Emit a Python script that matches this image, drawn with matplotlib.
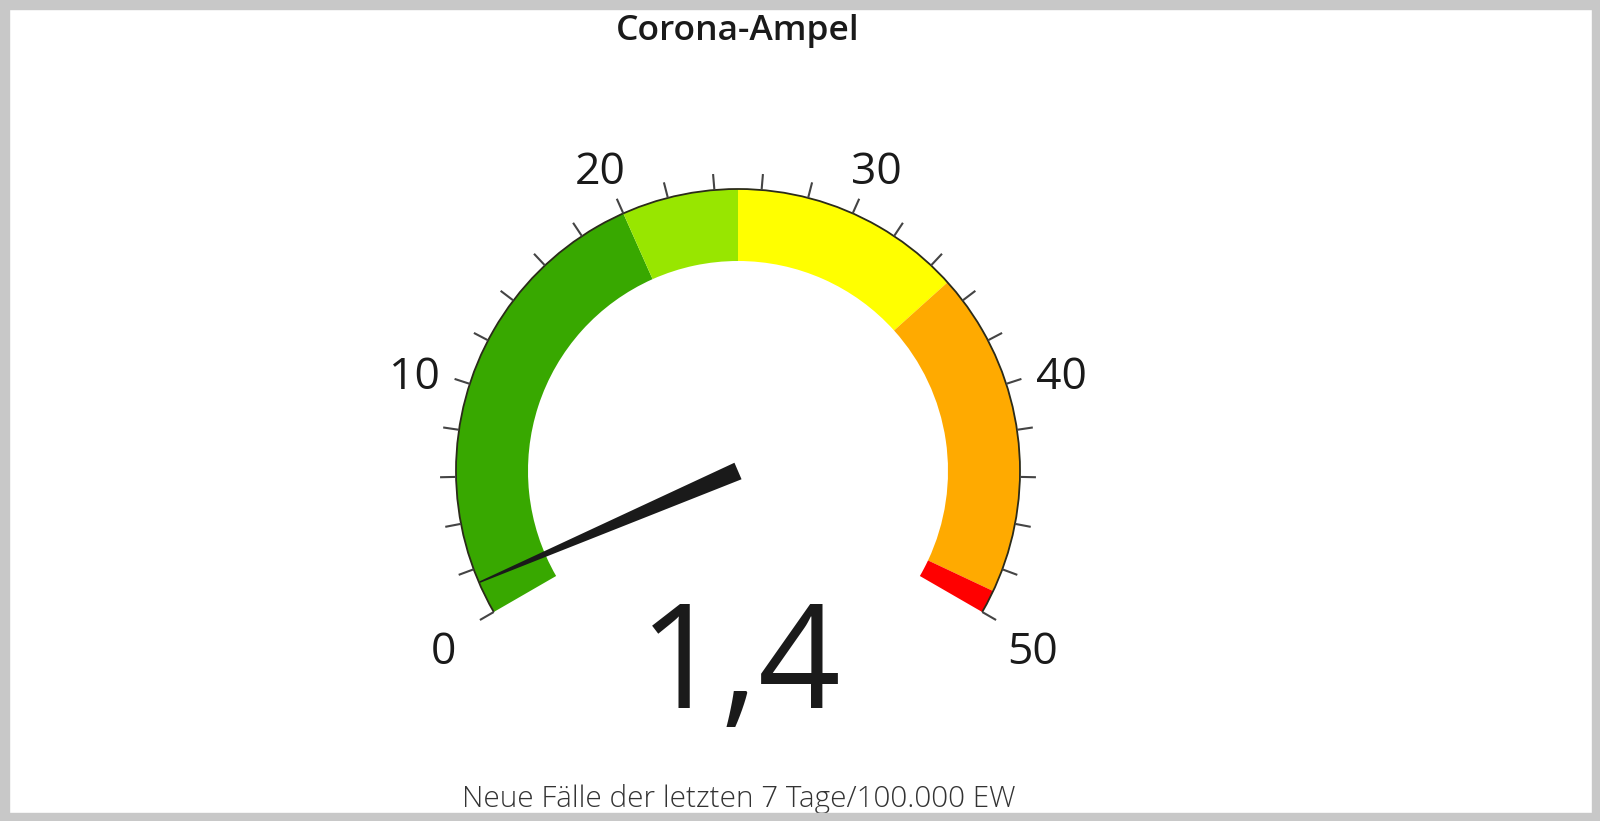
import numpy as np
import matplotlib.pyplot as plt
from matplotlib.patches import Wedge, Arc, Polygon, Rectangle

# gauge data
band_edges = [0, 20, 25, 35, 49, 50]
band_colors = ['#38a800', '#98e600', '#ffff00', '#ffaa00', '#ff0000']
major_ticks = [0, 10, 20, 30, 40, 50]
minor_ticks = list(range(0, 51, 2))
value = 1.4
value_label = '1,4'
title = 'Corona-Ampel'
caption = 'Neue Fälle der letzten 7 Tage/100.000 EW'

vmin, vmax = 0, 50
a_start, a_end = 210, -30  # degrees at vmin / vmax


def ang(v):
    return a_start + (v - vmin) / (vmax - vmin) * (a_end - a_start)


W, H = 1600, 821
fig = plt.figure(figsize=(W / 100, H / 100), dpi=100)
ax = fig.add_axes([0, 0, 1, 1])
ax.set_xlim(0, W)
ax.set_ylim(0, H)
ax.axis('off')

cx, cy = 738, 350
R, r_in = 282, 210

# colour bands
for lo, hi, c in zip(band_edges[:-1], band_edges[1:], band_colors):
    ax.add_patch(Wedge((cx, cy), R, ang(hi), ang(lo), width=R - r_in,
                       facecolor=c, edgecolor='none'))
ax.add_patch(Arc((cx, cy), 2 * R, 2 * R, theta1=a_end, theta2=a_start,
                 color='#2b2b1a', lw=1.3))

# ticks
for t in minor_ticks:
    th = np.radians(ang(t))
    ax.plot([cx + R * np.cos(th), cx + (R + 16) * np.cos(th)],
            [cy + R * np.sin(th), cy + (R + 16) * np.sin(th)],
            color='#444444', lw=1.5, solid_capstyle='butt')
for t in major_ticks:
    th = np.radians(ang(t))
    ax.text(cx + 340 * np.cos(th), cy + 340 * np.sin(th) - 12, str(t),
            ha='center', va='center', fontsize=32, color='#1a1a1a',
            family='Open Sans')

# needle
th = np.radians(ang(value))
ux, uy = np.cos(th), np.sin(th)
px, py = -uy, ux
needle = [(cx + 9 * px, cy + 9 * py), (cx - 9 * px, cy - 9 * py),
          (cx + 281 * ux - 0.8 * px, cy + 281 * uy - 0.8 * py),
          (cx + 281 * ux + 0.8 * px, cy + 281 * uy + 0.8 * py)]
ax.add_patch(Polygon(needle, closed=True, facecolor='#1a1a1a', edgecolor='none'))

ax.text(740, 113, value_label, ha='center', va='baseline',
        fontsize=104, color='#1a1a1a', family='Open Sans')

ax.text(738, 790, title, ha='center', va='center', fontsize=25.5,
        color='#1a1a1a', family='Open Sans', fontweight='semibold')
ax.text(739, 14, caption, ha='center', va='baseline', fontsize=21.3,
        color='#333333', family='Open Sans', fontweight='light')

# grey frame
grey = '#c8c8c8'
ax.add_patch(Rectangle((0, 0), 9, H, color=grey, zorder=10))
ax.add_patch(Rectangle((W - 8, 0), 8, H, color=grey, zorder=10))
ax.add_patch(Rectangle((0, H - 9), W, 9, color=grey, zorder=10))
ax.add_patch(Rectangle((0, 0), W, 8, color=grey, zorder=10))

fig.savefig('out.png', dpi=100)
